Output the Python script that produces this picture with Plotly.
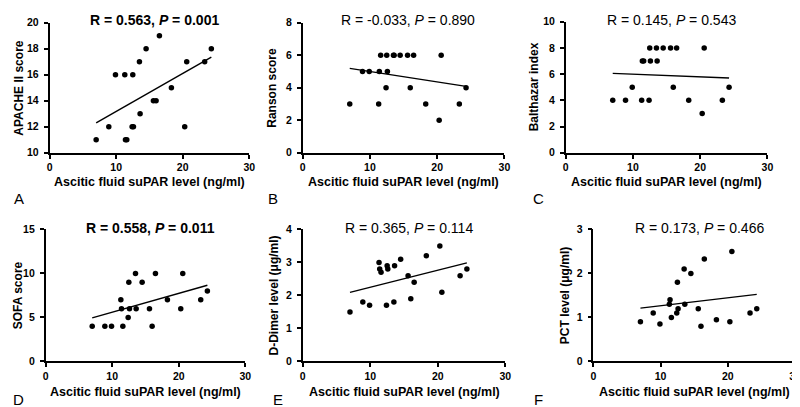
import numpy as np
import plotly.graph_objects as go

W, H = 800, 407

# ---- data ----
suPAR = [7.0, 8.9, 9.9, 11.3, 11.4, 11.6, 12.4, 12.5, 12.6, 13.5,
         13.6, 14.5, 15.6, 16.0, 16.5, 18.3, 20.3, 20.6, 23.3, 24.3]
apache = [11, 12, 16, 16, 11, 11, 12, 16, 12, 17, 13, 18, 14, 14, 19, 15, 12, 17, 17, 18]
ranson = [3, 5, 5, 3, 5, 6, 4, 6, 5, 6, 6, 6, 6, 4, 6, 3, 2, 6, 3, 4]
balthazar = [4, 4, 5, 4, 7, 7, 4, 8, 7, 8, 7, 8, 8, 5, 8, 4, 3, 8, 4, 5]
sofa = [4, 4, 4, 7, 6, 4, 5, 9, 6, 10, 6, 9, 6, 4, 10, 7, 6, 10, 7, 8]
ddimer = [1.5, 1.8, 1.7, 3.0, 2.8, 2.7, 1.7, 2.9, 2.8, 1.8, 2.9, 3.1, 2.6, 1.9, 2.4, 3.2, 3.5, 2.1, 2.6, 2.8]
pct = [0.9, 1.1, 0.85, 1.3, 1.4, 1.0, 1.1, 1.8, 1.2, 2.1, 1.3, 2.0, 1.2, 0.8, 2.33, 0.95, 0.9, 2.5, 1.1, 1.2]

x_title = "Ascitic fluid suPAR level (ng/ml)"
y_titles = ["APACHE II score", "Ranson score", "Balthazar index",
            "SOFA score", "D-Dimer level (μg/ml)", "PCT level (μg/ml)"]
r_texts = ["R = 0.563, <i>P</i> = 0.001", "R = -0.033, <i>P</i> = 0.890",
           "R = 0.145, <i>P</i> = 0.543", "R = 0.558, <i>P</i> = 0.011",
           "R = 0.365, <i>P</i> = 0.114", "R = 0.173, <i>P</i> = 0.466"]
r_bold = [True, False, False, True, False, False]
letters = ["A", "B", "C", "D", "E", "F"]
x_range = [0, 30]
x_ticks = [0, 10, 20, 30]
y_ranges = [[10, 20], [0, 8], [0, 10], [0, 15], [0, 4], [0, 3]]
y_tick_lists = [[10, 12, 14, 16, 18, 20], [0, 2, 4, 6, 8], [0, 2, 4, 6, 8, 10],
                [0, 5, 10, 15], [0, 1, 2, 3, 4], [0, 1, 2, 3]]
series = [apache, ranson, balthazar, sofa, ddimer, pct]

# ---- layout (pixel boxes of each plot area) ----
# (left, right, top, bottom)
boxes = [(39, 241, 9, 143), (295, 499, 9, 143), (561, 765, 8, 143),
         (35, 237, 222, 358), (295, 500, 222, 358), (589, 793, 222, 358)]
ytitle_x = [8, 264, 529, 8, 266, 561]
letter_x = [2, 259, 527, 1, 264, 528]
row_xtitle_y = [173, 389]
row_rtitle_y = [6, 221]
row_letter_y = [190, 397]

FONT = "Liberation Sans, Arial, Helvetica, sans-serif"


def px(x):
    return x / W


def py(y):
    return 1 - y / H


def bold(v):
    return "<b>%s</b>" % v


fig = go.Figure()
annotations = []
layout = {}
for i in range(6):
    l, r, t, b = boxes[i]
    row = i // 3
    ax = "" if i == 0 else str(i + 1)
    xa, ya = "x" + ax, "y" + ax
    ys = series[i]
    fig.add_trace(go.Scatter(x=suPAR, y=ys, mode="markers", xaxis=xa, yaxis=ya,
                             marker=dict(color="black", size=5.5), cliponaxis=False,
                             showlegend=False, hoverinfo="skip"))
    slope, intercept = np.polyfit(suPAR, ys, 1)
    xs = [min(suPAR), max(suPAR)]
    fig.add_trace(go.Scatter(x=xs, y=[slope * v + intercept for v in xs], mode="lines",
                             xaxis=xa, yaxis=ya, line=dict(color="black", width=1.4),
                             showlegend=False, hoverinfo="skip"))
    common = dict(showline=True, linecolor="black", linewidth=1.5, ticks="outside",
                  ticklen=4, tickwidth=1.5, tickcolor="black", showgrid=False,
                  zeroline=False, tickfont=dict(family=FONT, size=10.5, color="black"),
                  fixedrange=True)
    layout["xaxis" + ax] = dict(domain=[px(l), px(r)], range=x_range, tickmode="array",
                                tickvals=x_ticks, ticktext=[bold(v) for v in x_ticks],
                                anchor=ya, **common)
    yt = y_tick_lists[i]
    layout["yaxis" + ax] = dict(domain=[py(b), py(t)], range=y_ranges[i], tickmode="array",
                                tickvals=yt, ticktext=[bold(v) for v in yt],
                                ticklabelstandoff=3, anchor=xa, **common)
    # x title
    annotations.append(dict(text=bold(x_title), xref="paper", yref="paper", x=px((l + r) / 2),
                            y=py(row_xtitle_y[row]), xanchor="center", yanchor="middle",
                            showarrow=False,
                            font=dict(family=FONT, size=12.5, color="black")))
    # y title
    annotations.append(dict(text=bold(y_titles[i]), xref="paper", yref="paper", x=px(ytitle_x[i]),
                            y=py((t + b) / 2), xanchor="center", yanchor="middle",
                            textangle=-90, showarrow=False,
                            font=dict(family=FONT, size=12, color="black")))
    # correlation text
    txt = bold(r_texts[i]) if r_bold[i] else r_texts[i]
    annotations.append(dict(text=txt, xref="paper", yref="paper", x=px((l + r) / 2 + 5),
                            y=py(row_rtitle_y[row]), xanchor="center", yanchor="middle",
                            showarrow=False,
                            font=dict(family=FONT, size=14, color="black")))
    # panel letter
    annotations.append(dict(text=letters[i], xref="paper", yref="paper", x=px(letter_x[i]),
                            y=py(row_letter_y[row]), xanchor="left", yanchor="middle",
                            showarrow=False, borderpad=0,
                            font=dict(family=FONT, size=15, color="black")))

fig.update_layout(width=W, height=H, margin=dict(l=0, r=0, t=0, b=0),
                  paper_bgcolor="white", plot_bgcolor="white",
                  annotations=annotations, **layout)

fig.write_html("out.html")
